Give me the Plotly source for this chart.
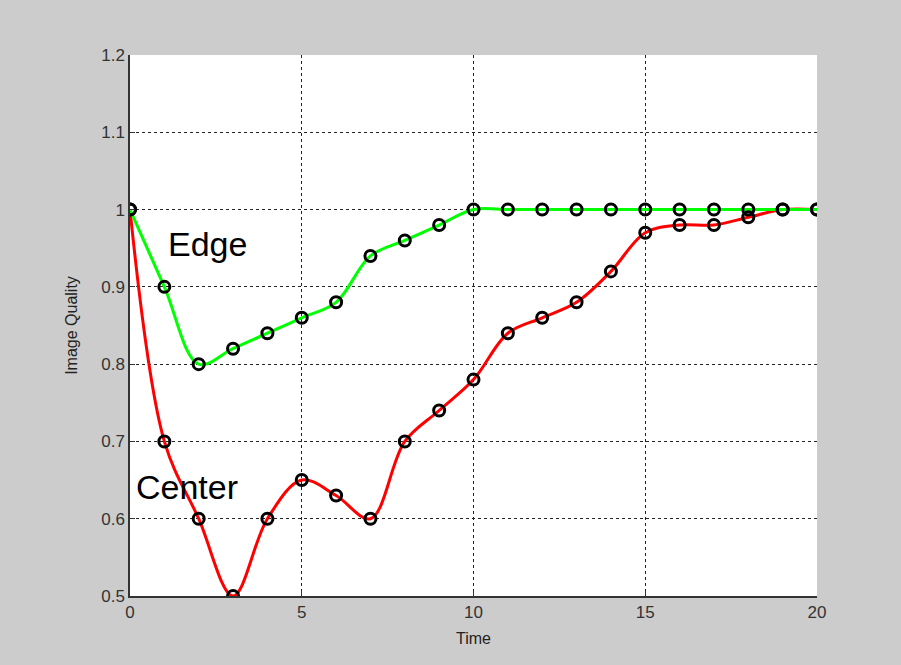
import plotly.graph_objects as go

# Sample times and measured image quality for the two regions
time = list(range(0, 21))
edge_quality = [1.00, 0.90, 0.80, 0.82, 0.84, 0.86, 0.88, 0.94, 0.96, 0.98, 1.00,
                1.00, 1.00, 1.00, 1.00, 1.00, 1.00, 1.00, 1.00, 1.00, 1.00]
center_quality = [1.00, 0.70, 0.60, 0.50, 0.60, 0.65, 0.63, 0.60, 0.70, 0.74, 0.78,
                  0.84, 0.86, 0.88, 0.92, 0.97, 0.98, 0.98, 0.99, 1.00, 1.00]

x_ticks = [0, 5, 10, 15, 20]
y_ticks = [0.5, 0.6, 0.7, 0.8, 0.9, 1.0, 1.1, 1.2]
y_tick_text = ["0.5", "0.6", "0.7", "0.8", "0.9", "1", "1.1", "1.2"]

font_family = "Liberation Sans, Arial, sans-serif"

fig = go.Figure()

# Smoothed curves
fig.add_trace(go.Scatter(x=time, y=center_quality, mode="lines",
                         line=dict(color="#ff0000", width=3, shape="spline", smoothing=1.0),
                         hoverinfo="skip", showlegend=False))
fig.add_trace(go.Scatter(x=time, y=edge_quality, mode="lines",
                         line=dict(color="#00ff00", width=3, shape="spline", smoothing=1.0),
                         hoverinfo="skip", showlegend=False))

# Sample points as open circles
for series in (center_quality, edge_quality):
    fig.add_trace(go.Scatter(x=time, y=series, mode="markers",
                             marker=dict(symbol="circle-open", size=11, color="black",
                                         line=dict(width=3, color="black")),
                             showlegend=False))

# Region labels
fig.add_annotation(x=2.27, y=0.955, text="Edge", showarrow=False,
                   font=dict(family=font_family, size=34, color="black"))
fig.add_annotation(x=1.65, y=0.641, text="Center", showarrow=False,
                   font=dict(family=font_family, size=34, color="black"))

axis_common = dict(
    showgrid=True, gridcolor="#222222", griddash="3px,3px", gridwidth=1,
    showline=True, linecolor="#333333", linewidth=1.5,
    ticks="inside", ticklen=5, tickcolor="#333333",
    tickfont=dict(family=font_family, size=17, color="#333333"),
    zeroline=False, mirror=False,
)

fig.update_xaxes(range=[0, 20], tickvals=x_ticks, **axis_common,
                 title=dict(text="Time", standoff=12,
                            font=dict(family=font_family, size=16, color="#222222")))
fig.update_yaxes(range=[0.5, 1.2], tickvals=y_ticks, ticktext=y_tick_text, **axis_common,
                 title=dict(text="Image Quality", standoff=20,
                            font=dict(family=font_family, size=16, color="#222222")))

fig.update_layout(
    width=901, height=665,
    margin=dict(l=130, r=84, t=55, b=69),
    paper_bgcolor="#cccccc", plot_bgcolor="white",
    showlegend=False,
)

fig.write_html("out.html")
